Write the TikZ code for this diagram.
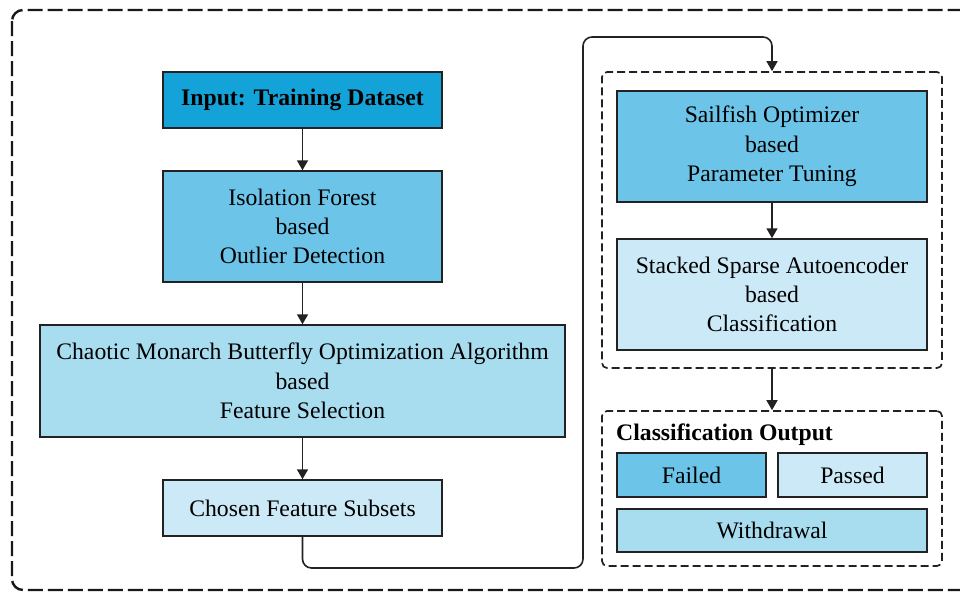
\documentclass[tikz,border=0pt]{standalone}
\usepackage{fontspec}
\setmainfont{Liberation Serif}
\usetikzlibrary{arrows.meta}
\definecolor{cdeep}{HTML}{14A3D8}
\definecolor{cmid}{HTML}{6CC4E8}
\definecolor{clight}{HTML}{A8DDF0}
\definecolor{cpale}{HTML}{CBE9F6}
\definecolor{cline}{HTML}{222222}
\tikzset{
  procbox/.style={draw=cline, line width=1.5pt, rectangle, align=center, inner sep=2pt,
    font=\fontsize{23.7}{29.3}\selectfont},
  groupbox/.style={draw=cline, line width=1.7pt, dash pattern=on 8pt off 4pt, rectangle,
    rounded corners=5pt, inner sep=0pt},
  flow/.style={draw=cline, line width=1.6pt, -{Triangle[width=11pt,length=10pt]}},
  outerframe/.style={draw=black!90, line width=2.4pt, dash pattern=on 15pt off 5pt, rounded corners=11pt}
}
\begin{document}
\begin{tikzpicture}[x=1pt,y=-1pt]
\useasboundingbox (0,0) rectangle (960,592);
\draw[outerframe] (12,10) rectangle (980,590);

\node[procbox, fill=cdeep, minimum width=279pt, minimum height=56pt, font=\fontsize{23.7}{29.3}\selectfont\bfseries] (input) at (302.5,100) {Input: Training Dataset};
\node[procbox, fill=cmid, minimum width=279pt, minimum height=111pt] (iso) at (302.5,226.5) {Isolation Forest\\based\\Outlier Detection};
\node[procbox, fill=clight, minimum width=525pt, minimum height=112pt] (cmbo) at (302.5,381) {Chaotic Monarch Butterfly Optimization Algorithm\\based\\Feature Selection};
\node[procbox, fill=cpale, minimum width=279pt, minimum height=56pt] (chosen) at (302.5,508) {Chosen Feature Subsets};

\node[groupbox, minimum width=340pt, minimum height=296pt] (grp1) at (772,220) {};
\node[procbox, fill=cmid, minimum width=310pt, minimum height=111pt] (sail) at (772,146.5) {Sailfish Optimizer\\based\\Parameter Tuning};
\node[procbox, fill=cpale, minimum width=310pt, minimum height=111pt] (ssae) at (772,294.5) {Stacked Sparse Autoencoder\\based\\Classification};

\node[groupbox, minimum width=340pt, minimum height=155pt] (grp2) at (772,488.5) {};
\node[anchor=base west, inner sep=0pt, font=\fontsize{23.7}{29.3}\selectfont\bfseries] (outlabel) at (616,440) {Classification Output};
\node[procbox, fill=cmid, minimum width=149pt, minimum height=44pt] (failed) at (691.5,475) {Failed};
\node[procbox, fill=cpale, minimum width=149pt, minimum height=44pt] (passed) at (852.5,475) {Passed};
\node[procbox, fill=clight, minimum width=310pt, minimum height=43pt] (withdraw) at (772,530.5) {Withdrawal};

\draw[flow] (input) -- (iso);
\draw[flow] (iso) -- (cmbo);
\draw[flow] (cmbo) -- (chosen);
\draw[flow] (sail) -- (ssae);
\draw[flow] (grp1) -- (grp2);

\coordinate (turnA) at (583,568);
\coordinate (turnB) at (583,37);
\draw[flow, rounded corners=9pt] (chosen.south) |- (turnA) -- (turnB) -| (grp1.north);
\end{tikzpicture}
\end{document}
